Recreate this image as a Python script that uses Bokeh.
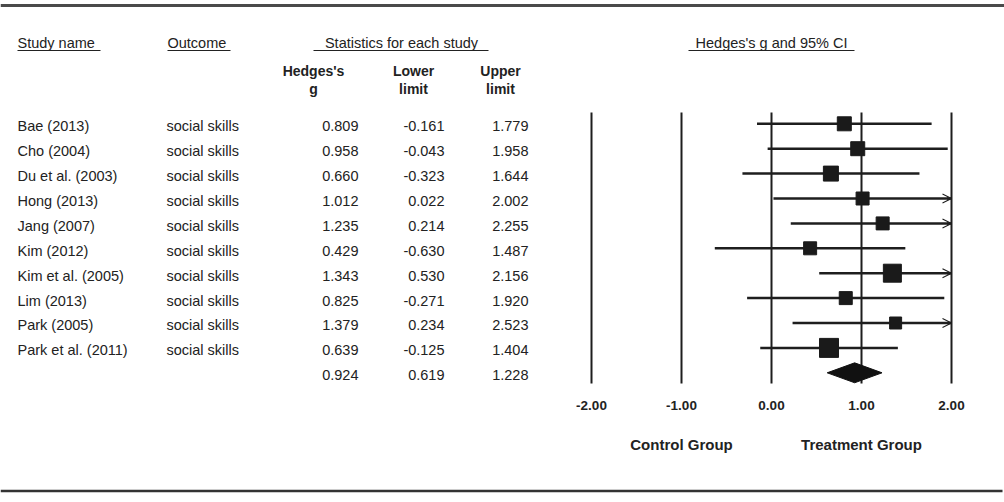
from bokeh.plotting import figure
from bokeh.models import Range1d, ColumnDataSource, Arrow, OpenHead
from bokeh.core.properties import value
from bokeh.embed import file_html
from bokeh.resources import INLINE

# ---------------- data ----------------
studies = ["Bae (2013)", "Cho (2004)", "Du et al. (2003)", "Hong (2013)", "Jang (2007)",
           "Kim (2012)", "Kim et al. (2005)", "Lim (2013)", "Park (2005)", "Park et al. (2011)"]
outcomes = ["social skills"] * 10
hedges_g = [0.809, 0.958, 0.660, 1.012, 1.235, 0.429, 1.343, 0.825, 1.379, 0.639]
lower = [-0.161, -0.043, -0.323, 0.022, 0.214, -0.630, 0.530, -0.271, 0.234, -0.125]
upper = [1.779, 1.958, 1.644, 2.002, 2.255, 1.487, 2.156, 1.920, 2.523, 1.404]
summary_g = 0.924
summary_lower = 0.619
summary_upper = 1.228
weights = [14, 14, 15, 13, 13, 13, 18, 13, 12, 19]   # relative study weights (box size)
axis_ticks = [-2.0, -1.0, 0.0, 1.0, 2.0]
axis_labels = ["-2.00", "-1.00", "0.00", "1.00", "2.00"]
favours = ["Control Group", "Treatment Group"]
favours_at = [-1.0, 1.0]

# ---------------- layout ----------------
W, H = 1004, 502
ROW0, STEP = 123.3, 24.9          # pixel position of first row, row pitch
G_PX0, G_PX_PER = 591.0, 90.0     # pixel of g=-2, pixels per unit of g
AX_MIN, AX_MAX = -2.0, 2.0

def row(ypx):
    return (ypx - ROW0) / STEP

FONT = value("Liberation Sans")
INK = "#1e1e1e"

p = figure(width=W, height=H, output_backend="svg", toolbar_location=None,
           x_range=Range1d(0, W), y_range=Range1d(row(H), row(0)),
           x_axis_location=None, y_axis_location=None,
           min_border=0, outline_line_color=None, background_fill_color="white",
           border_fill_color="white")
p.grid.visible = False
p.extra_x_ranges = {"g": Range1d(AX_MIN - G_PX0 / G_PX_PER, AX_MIN + (W - G_PX0) / G_PX_PER)}

n = len(studies)
rows = list(range(n))

# ---------------- table text ----------------
TXT = "14.5px"
ty = [r + 0.1 for r in rows]
src = ColumnDataSource(dict(y=ty, name=studies, outc=outcomes,
                            g=[f"{v:.3f}" for v in hedges_g],
                            lo=[f"{v:.3f}" for v in lower],
                            hi=[f"{v:.3f}" for v in upper]))
common = dict(source=src, y="y", text_font=FONT, text_font_size=TXT, text_color="#222222",
              text_baseline="middle")
p.text(x=17, text="name", text_align="left", **common)
p.text(x=166, text="outc", text_align="left", **common)
p.text(x=358, text="g", text_align="right", **common)
p.text(x=444, text="lo", text_align="right", **common)
p.text(x=528, text="hi", text_align="right", **common)

sum_src = ColumnDataSource(dict(x=[358, 444, 528], y=[n + 0.1] * 3,
                                t=[f"{summary_g:.3f}", f"{summary_lower:.3f}", f"{summary_upper:.3f}"]))
p.text(x="x", y="y", text="t", source=sum_src, text_align="right", text_baseline="middle",
       text_font=FONT, text_font_size=TXT, text_color="#222222")

# headers
hdr = ColumnDataSource(dict(x=[17, 167, 401, 771], y=[row(42)] * 4,
                            t=["Study name", "Outcome", "Statistics for each study", "Hedges's g and 95% CI"],
                            a=["left", "left", "center", "center"]))
p.text(x="x", y="y", text="t", text_align="a", source=hdr, text_baseline="middle",
       text_font=FONT, text_font_size=TXT, text_color="#222222")
p.segment(x0=[17, 167, 313, 688], x1=[100, 230, 488, 854], y0=[row(50)] * 4, y1=[row(50)] * 4,
          line_color="#222222", line_width=1.2)

colhdr = ColumnDataSource(dict(x=[313, 413, 500, 313, 413, 500],
                               y=[row(70)] * 3 + [row(88)] * 3,
                               t=["Hedges's", "Lower", "Upper", "g", "limit", "limit"]))
p.text(x="x", y="y", text="t", source=colhdr, text_align="center", text_baseline="middle",
       text_font=FONT, text_font_style="bold", text_font_size="14px", text_color="#222222")

# ---------------- forest plot ----------------
p.segment(x0=axis_ticks, x1=axis_ticks, y0=[row(112)] * 5, y1=[row(383)] * 5,
          x_range_name="g", line_color=INK, line_width=2)

ci_hi = [min(u, AX_MAX) for u in upper]
p.segment(x0=lower, x1=ci_hi, y0=rows, y1=rows, x_range_name="g", line_color=INK, line_width=2.5)

for r, u in zip(rows, upper):
    if u > AX_MAX:
        p.add_layout(Arrow(end=OpenHead(size=9, line_width=1.1, line_color=INK),
                           x_start=AX_MAX - 0.05, x_end=AX_MAX, y_start=r, y_end=r,
                           line_color=INK, line_width=2.5, x_range_name="g"))

p.scatter(x=hedges_g, y=rows, size=weights, marker="square", x_range_name="g",
          fill_color="#1a1a1a", line_color="#1a1a1a")

p.patch(x=[summary_lower, summary_g, summary_upper, summary_g],
        y=[n, n - 0.4, n, n + 0.4], x_range_name="g", fill_color="#111111", line_color="#111111")

tick_src = ColumnDataSource(dict(x=axis_ticks, y=[row(405)] * 5, t=axis_labels))
p.text(x="x", y="y", text="t", source=tick_src, x_range_name="g", text_align="center",
       text_baseline="middle", text_font=FONT, text_font_style="bold", text_font_size="13.5px",
       text_color="#222222")

fav_src = ColumnDataSource(dict(x=favours_at, y=[row(444)] * 2, t=favours))
p.text(x="x", y="y", text="t", source=fav_src, x_range_name="g", text_align="center",
       text_baseline="middle", text_font=FONT, text_font_style="bold", text_font_size="15px",
       text_color="#222222")

# ---------------- frame lines ----------------
p.segment(x0=[0], x1=[W], y0=[row(5)], y1=[row(5)], line_color="#4a4a4a", line_width=3)
p.segment(x0=[0], x1=[1002], y0=[row(490.5)], y1=[row(490.5)], line_color="#333333", line_width=2.5)

open("out.html", "w").write(file_html(p, INLINE))
